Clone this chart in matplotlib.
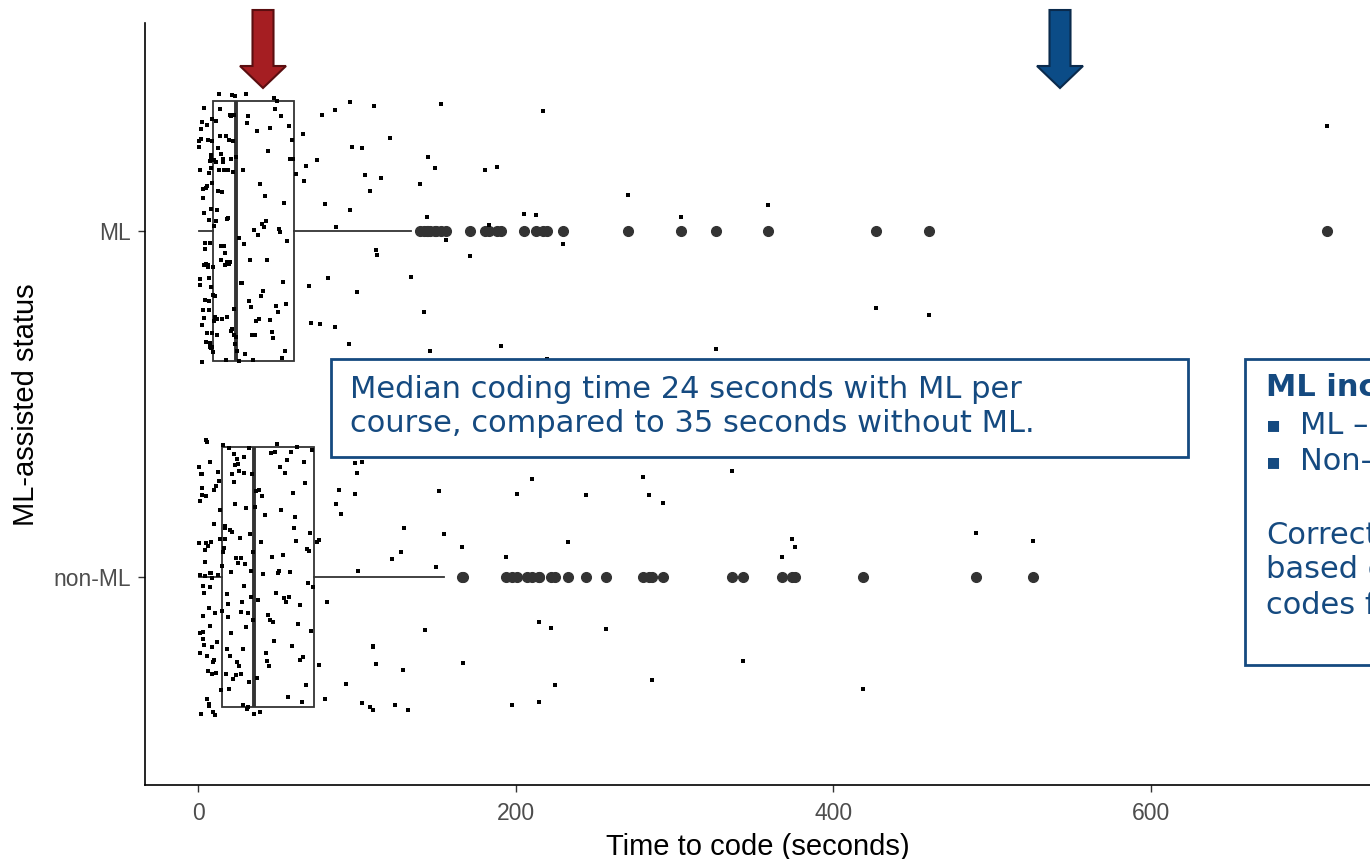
import matplotlib
matplotlib.use("Agg")
import matplotlib.pyplot as plt
from matplotlib.patches import Polygon, Rectangle
import numpy as np

plt.rcParams["font.family"] = ["Liberation Sans", "DejaVu Sans"]

# --- data (seconds) ---
groups = ["non-ML", "ML"]

ml_low = [0.5, 0.9, 1.1, 1.4, 1.6, 2.2, 2.4, 2.7, 3.1, 3.3, 3.5, 3.8, 4.0, 4.2, 4.4,
          4.8, 5.0, 5.2, 5.6, 5.8, 6.0, 6.2, 6.4, 6.6, 6.8, 7.0, 7.1, 7.3, 7.6, 7.8,
          8.0, 8.1, 8.2, 8.4, 8.5, 8.7, 8.8, 9.0, 9.1, 9.2, 1.3, 2.0, 2.9, 3.6, 4.6,
          5.4, 6.1, 6.9, 7.4, 7.9, 8.3, 8.6, 8.9, 9.3]
ml_mid = [9.5, 9.8, 10.1, 10.4, 10.7, 11.0, 11.3, 11.5, 11.9, 12.2, 12.5, 12.8, 13.1,
          13.4, 13.7, 14.0, 14.3, 14.6, 14.9, 15.2, 15.5, 15.9, 16.2, 16.5, 16.8, 17.1,
          17.4, 17.8, 18.1, 18.4, 18.7, 19.0, 19.4, 19.7, 20.0, 20.3, 20.7, 21.0, 21.3,
          21.6, 22.0, 22.3, 22.6, 22.9, 23.2, 23.5, 23.8, 10.0, 12.0, 14.5, 16.0, 18.0,
          20.5, 22.5]
ml_high = [24.2, 24.8, 25.5, 26.1, 26.8, 27.4, 28.1, 28.7, 29.4, 30.0, 30.7, 31.3, 32.0,
           32.6, 33.3, 33.9, 34.6, 35.2, 35.9, 36.5, 37.2, 37.8, 38.5, 39.1, 39.8, 40.4,
           41.1, 41.7, 42.4, 43.0, 43.7, 44.3, 45.0, 45.6, 46.3, 46.9, 47.6, 48.2, 48.9,
           49.5, 50.2, 50.8, 51.5, 52.1, 52.8, 53.4, 54.1, 54.7, 55.4, 56.0, 57.0, 58.0,
           59.0, 60.0]
ml_tail = [62, 66, 67, 68, 70, 71, 75, 77, 78, 80, 82, 86, 86, 87, 95, 96, 96, 97, 100,
           103, 105, 108, 111, 112, 113, 115, 121, 134,
           140, 142, 144, 145, 146, 149, 150, 153, 156, 171, 181, 183, 188, 191, 205,
           213, 217, 220, 230, 271, 304, 326, 359, 427, 460, 711]

nonml_low = [0.4, 0.8, 1.1, 1.3, 1.5, 1.8, 2.0, 2.3, 2.6, 2.9, 3.1, 3.4, 3.7, 4.0, 4.2,
             4.5, 4.8, 5.1, 5.3, 5.6, 5.9, 6.2, 6.4, 6.7, 7.0, 7.3, 7.5, 7.8, 8.1, 8.4,
             8.6, 8.9, 9.2, 9.5, 9.8, 10.1, 10.4, 10.8, 11.2, 11.6, 12.0, 12.4, 12.8,
             13.2, 13.6, 14.0, 14.4, 14.8, 1.0, 2.2, 3.3, 4.4, 5.5, 6.6, 7.7, 8.8, 9.9]
nonml_mid = [15.2, 15.6, 16.0, 16.4, 16.8, 17.2, 17.6, 18.0, 18.4, 18.8, 19.2, 19.6,
             20.0, 20.4, 20.8, 21.2, 21.6, 22.0, 22.4, 22.8, 23.2, 23.6, 24.0, 24.4,
             24.8, 25.2, 25.6, 26.0, 26.4, 26.8, 27.2, 27.6, 28.0, 28.4, 28.8, 29.2,
             29.6, 30.0, 30.4, 30.8, 31.2, 31.6, 32.0, 32.4, 32.8, 33.2, 33.6, 34.0,
             34.4, 34.8, 17.0, 19.0, 21.0, 23.0, 25.0, 27.0, 29.0]
nonml_high = [35.2, 35.9, 36.5, 37.2, 37.9, 38.5, 39.2, 39.9, 40.5, 41.2, 41.9, 42.5,
              43.2, 43.9, 44.5, 45.2, 45.9, 46.5, 47.2, 47.9, 48.5, 49.2, 49.9, 50.5,
              51.2, 51.9, 52.5, 53.2, 53.9, 54.5, 55.2, 55.9, 56.5, 57.2, 57.9, 58.5,
              59.2, 59.9, 60.5, 61.2, 61.9, 62.5, 63.2, 63.9, 64.5, 65.2, 65.9, 66.5,
              67.2, 67.9, 68.5, 69.2, 69.9, 70.5, 71.2, 71.9, 72.5]
nonml_tail = [75, 76, 76, 80, 81, 87, 89, 90, 93, 99, 99, 100, 101, 103, 103, 108, 110,
              110, 110, 112, 122, 124, 128, 129, 130, 132, 143, 144, 150, 152, 155,
              166, 167, 194, 198, 201, 207, 210, 215, 215, 222, 225, 233, 244, 257, 280,
              284, 286, 293, 336, 343, 368, 374, 376, 419, 490, 526]

ml = np.array(ml_low + ml_mid + ml_high + ml_tail)
nonml = np.array(nonml_low + nonml_mid + nonml_high + nonml_tail)
data = [nonml, ml]

box_col = "#333333"
blue = "#154A80"

fig = plt.figure(figsize=(13.7, 8.59), dpi=100)
ax = fig.add_axes([145 / 1370, 74 / 859, 1 - 145 / 1370, (785 - 23.4) / 859])

ax.boxplot(data, positions=[1, 2], orientation="horizontal", widths=0.75, whis=1.5,
           patch_artist=True, showcaps=False,
           boxprops=dict(facecolor="white", edgecolor=box_col, linewidth=1.3),
           whiskerprops=dict(color=box_col, linewidth=1.3),
           medianprops=dict(color=box_col, linewidth=2.8),
           flierprops=dict(marker="o", markerfacecolor=box_col, markeredgecolor=box_col,
                           markersize=7))

# jitter (vertical only, like geom_jitter)
rng = np.random.default_rng(7)
for pos, vals in zip([1, 2], data):
    yj = pos + rng.uniform(-0.4, 0.4, len(vals))
    ax.plot(vals, yj, linestyle="none", marker="s", markersize=2.6, color="black",
            markeredgewidth=0, zorder=3)

ax.set_xlim(-33.4, 738)
ax.set_ylim(0.4, 2.6)
ax.set_xticks([0, 200, 400, 600])
ax.set_yticks([1, 2])
ax.set_yticklabels(groups)
ax.tick_params(labelsize=16.5, labelcolor="#4D4D4D", color="#333333", length=5, width=1)
ax.tick_params(axis="x", pad=7)
ax.tick_params(axis="y", pad=5)
ax.set_xlabel("Time to code (seconds)", fontsize=21, labelpad=6)
ax.set_ylabel("ML-assisted status", fontsize=21, labelpad=10)
for s in ["top", "right"]:
    ax.spines[s].set_visible(False)
for s in ["left", "bottom"]:
    ax.spines[s].set_linewidth(1.2)

# overlay in pixel coordinates for arrows and call-out boxes
ov = fig.add_axes([0, 0, 1, 1], zorder=5)
ov.set_xlim(0, 1370)
ov.set_ylim(859, 0)
ov.axis("off")
ov.patch.set_alpha(0)


def down_arrow(cx, face, edge):
    pts = [(cx - 10.5, 10), (cx + 10.5, 10), (cx + 10.5, 66), (cx + 23, 66), (cx, 88),
           (cx - 23, 66), (cx - 10.5, 66)]
    ov.add_patch(Polygon(pts, closed=True, facecolor=face, edgecolor=edge, linewidth=1.5))


down_arrow(263, "#A51E22", "#5A0E10")
down_arrow(1060, "#0B4C87", "#0A2A4C")

fs = 22
ov.add_patch(Rectangle((331, 359), 857, 98, facecolor="white", edgecolor=blue, linewidth=2))
ov.text(350, 390, "Median coding time 24 seconds with ML per", fontsize=fs, color=blue,
        family="DejaVu Sans", va="center")
ov.text(350, 424, "course, compared to 35 seconds without ML.", fontsize=fs, color=blue,
        family="DejaVu Sans", va="center")

ov.add_patch(Rectangle((1245, 359), 200, 306, facecolor="white", edgecolor=blue, linewidth=2))
ov.text(1266, 388, "ML inc", fontsize=fs, color=blue, family="DejaVu Sans",
        fontweight="bold", va="center")
ov.text(1266, 425, "▪", fontsize=16, color=blue, family="DejaVu Sans", va="center")
ov.text(1300, 425, "ML –", fontsize=fs, color=blue, family="DejaVu Sans", va="center")
ov.text(1266, 462, "▪", fontsize=16, color=blue, family="DejaVu Sans", va="center")
ov.text(1300, 462, "Non-", fontsize=fs, color=blue, family="DejaVu Sans", va="center")
ov.text(1266, 536, "Correct", fontsize=fs, color=blue, family="DejaVu Sans", va="center")
ov.text(1266, 570, "based c", fontsize=fs, color=blue, family="DejaVu Sans", va="center")
ov.text(1266, 605, "codes f", fontsize=fs, color=blue, family="DejaVu Sans", va="center")

fig.savefig("out.png", dpi=100)
